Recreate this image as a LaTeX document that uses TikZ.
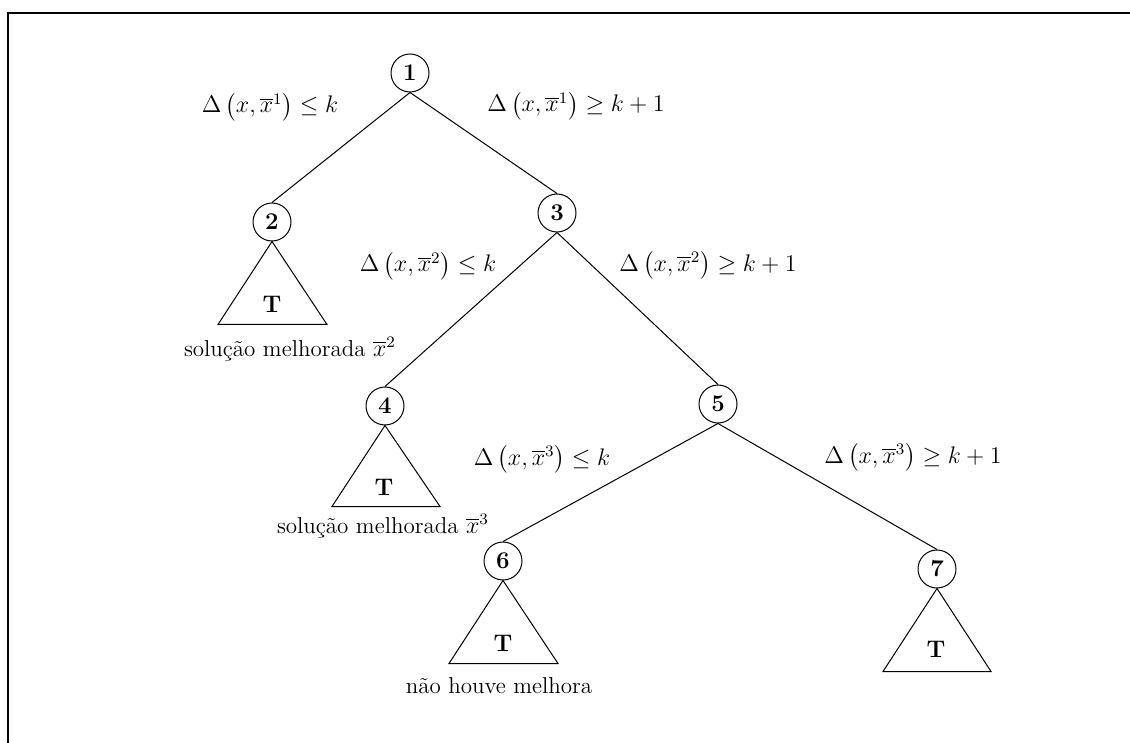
\documentclass[tikz,border=0pt]{standalone}
\usepackage{amsmath,amssymb}
\begin{document}
\begin{tikzpicture}[x=0.5pt,y=-0.5pt,
  every node/.style={font=\fontsize{11.5}{14}\selectfont},
  nd/.style={draw,circle,line width=0.5pt,minimum size=19pt,inner sep=0pt,font=\fontsize{12}{14}\selectfont\bfseries},
  edge/.style={line width=0.5pt},
  tri/.style={draw,line width=0.5pt},
  tlab/.style={font=\fontsize{12}{14}\selectfont\bfseries,inner sep=0pt},
  lab/.style={inner sep=0pt}]
\useasboundingbox (0,0) rectangle (1130,743);
\draw[line width=1pt] (1130,13) -- (8,13) -- (8,743);
% nodes
\node[nd] (n1) at (410,73) {1};
\node[nd] (n2) at (272,222) {2};
\node[nd] (n3) at (557,213) {3};
\node[nd] (n4) at (385,406) {4};
\node[nd] (n5) at (718,404) {5};
\node[nd] (n6) at (503,561) {6};
\node[nd] (n7) at (937,569) {7};
% edges
\draw[edge] (n1.south) -- (n2.north);
\draw[edge] (n1.south) -- (n3.north);
\draw[edge] (n3.south) -- (n4.north);
\draw[edge] (n3.south) -- (n5.north);
\draw[edge] (n5.south) -- (n6.north);
\draw[edge] (n5.south) -- (n7.north);
% subtrees
\draw[tri] (n2.south) -- ++(-54,83) -- ++(109,0) -- cycle;
\draw[tri] (n4.south) -- ++(-53,81) -- ++(108,0) -- cycle;
\draw[tri] (n6.south) -- ++(-54,83) -- ++(109,0) -- cycle;
\draw[tri] (n7.south) -- ++(-54,83) -- ++(108,0) -- cycle;
\node[tlab] (t2) at (272,304) {T};
\node[tlab] (t4) at (384,487) {T};
\node[tlab] (t6) at (503,643) {T};
\node[tlab] (t7) at (936,649) {T};
% branch labels
\node[lab] (l1) at (270,107) {$\Delta\,\bigl(x,\overline{x}^1\bigr)\leq k$};
\node[lab] (r1) at (576,106) {$\Delta\,\bigl(x,\overline{x}^1\bigr)\geq k+1$};
\node[lab] (l2) at (428,266) {$\Delta\,\bigl(x,\overline{x}^2\bigr)\leq k$};
\node[lab] (r2) at (708,265) {$\Delta\,\bigl(x,\overline{x}^2\bigr)\geq k+1$};
\node[lab] (l3) at (542,459) {$\Delta\,\bigl(x,\overline{x}^3\bigr)\leq k$};
\node[lab] (r3) at (913,457) {$\Delta\,\bigl(x,\overline{x}^3\bigr)\geq k+1$};
% captions
\node[lab] (c2) at (290,349) {solução melhorada $\overline{x}^2$};
\node[lab] (c4) at (383,526) {solução melhorada $\overline{x}^3$};
\node[lab] (c6) at (499,686) {não houve melhora};
\end{tikzpicture}
\end{document}
